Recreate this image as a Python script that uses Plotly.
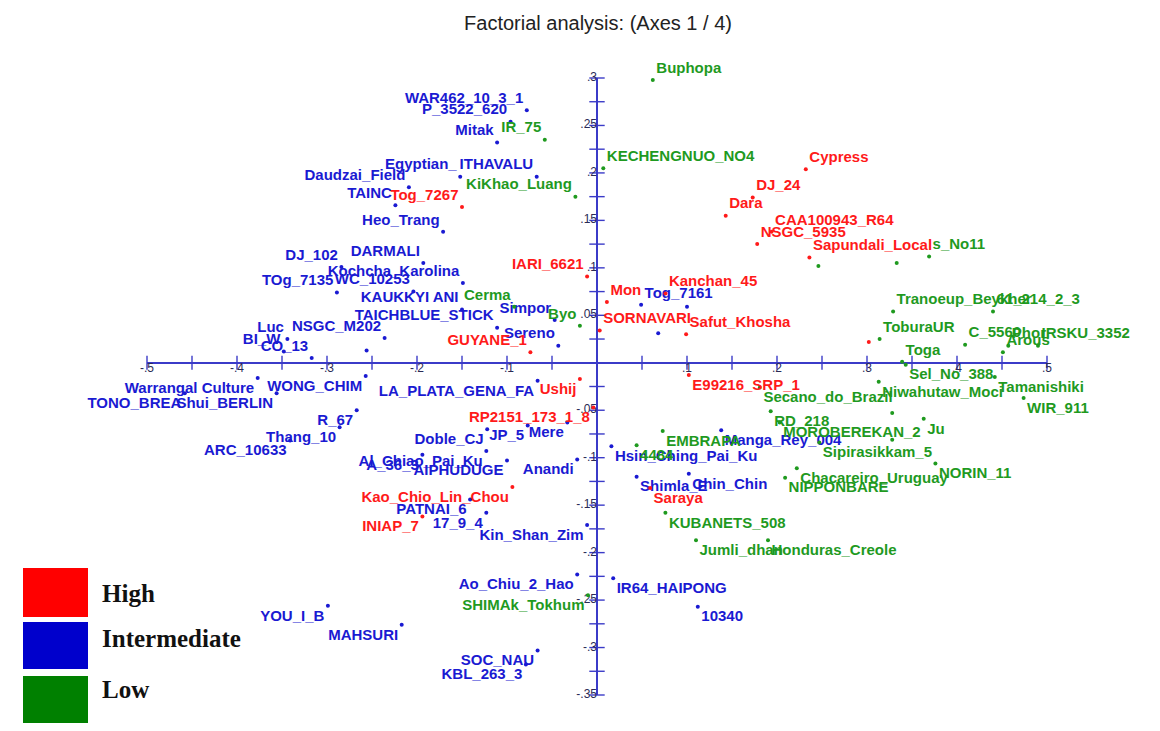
import plotly.graph_objects as go

# ---- Data: factorial coordinates on axes 1 and 4, by group ----
high_labels = ["Tog_7267", "GUYANE_1", "IARI_6621", "Ushij", "RP2151_173_1_8",
               "Kao_Chio_Lin_Chou", "INIAP_7", "Cypress", "DJ_24", "Dara",
               "CAA100943_R64", "NSGC_5935", "Sapundali_Local", "Kanchan_45", "Mon",
               "SORNAVARI", "Safut_Khosha", "", "E99216_SRP_1", "Saraya"]
high_x = [-0.150, -0.074, -0.011, -0.019, -0.004, -0.094, -0.194, 0.232, 0.173, 0.143,
          0.194, 0.178, 0.236, 0.076, 0.011, 0.003, 0.099, 0.302, 0.102, 0.059]
high_y = [0.164, 0.011, 0.091, -0.017, -0.047, -0.131, -0.162, 0.204, 0.174, 0.155,
          0.138, 0.125, 0.111, 0.073, 0.064, 0.034, 0.030, 0.022, -0.013, -0.132]

inter_labels = ["WAR462_10_3_1", "P_3522_620", "Mitak", "Egyptian_", "ITHAVALU",
                "Daudzai_Field", "TAINC", "Heo_Trang", "DARMALI", "DJ_102",
                "Kochcha_Karolina", "TOg_7135", "WC_10253", "KAUKKYI ANI", "TAICHBLUE_STICK",
                "Simpor", "Sereno", "Luc", "BI_W", "NSGC_M202", "CO_13", "",
                "Warrangal Culture", "TONO_BREA", "Shui_BERLIN", "WONG_CHIM", "LA_PLATA_GENA_FA",
                "R_67", "Thang_10", "ARC_10633", "Doble_CJ", "JP_5", "Mere",
                "Al_Chiao_Pai_Ku", "A_36_3", "AIPHUDUGE", "Anandi", "PATNAI_6", "17_9_4",
                "Kin_Shan_Zim", "Ao_Chiu_2_Hao", "YOU_I_B", "MAHSURI", "SOC_NAU", "KBL_263_3",
                "Tog_7161", "", "", "Manga_Rey_004", "Hsin_Ching_Pai_Ku", "Shimla_E",
                "Chin_Chin", "IR64_HAIPONG", "10340"]
inter_x = [-0.078, -0.096, -0.111, -0.152, -0.067, -0.209, -0.224, -0.171, -0.193, -0.284,
           -0.149, -0.289, -0.204, -0.150, -0.111, -0.047, -0.043, -0.344, -0.348, -0.236,
           -0.317, -0.256, -0.377, -0.458, -0.356, -0.257, -0.066, -0.267, -0.286, -0.341,
           -0.122, -0.077, -0.033, -0.123, -0.194, -0.100, -0.022, -0.141, -0.123, -0.011,
           -0.022, -0.299, -0.217, -0.066, -0.079, 0.049, 0.100, 0.068, 0.138, 0.016,
           0.044, 0.102, 0.018, 0.112]
inter_y = [0.266, 0.254, 0.232, 0.196, 0.196, 0.185, 0.166, 0.138, 0.105, 0.101,
           0.084, 0.074, 0.075, 0.056, 0.037, 0.045, 0.018, 0.025, 0.012, 0.026,
           0.005, 0.013, -0.016, -0.032, -0.032, -0.014, -0.019, -0.050, -0.068, -0.082,
           -0.070, -0.066, -0.063, -0.093, -0.097, -0.103, -0.102, -0.144, -0.158, -0.171,
           -0.223, -0.256, -0.276, -0.303, -0.318, 0.061, 0.059, 0.031, -0.071, -0.088,
           -0.120, -0.117, -0.227, -0.257]

low_labels = ["IR_75", "KiKhao_Luang", "Cerma", "Byo", "SHIMAk_Tokhum", "Buphopa",
              "KECHENGNUO_NO4", "s_No11", "", "", "Tranoeup_Beykher", "61_214_2_3",
              "ToburaUR", "C_5560", "Phor", "IRSKU_3352", "Arous", "Toga", "Sel_No_388",
              "Tamanishiki", "Osia_NO1", "WIR_911", "Niwahutaw_Moci", "Secano_do_Brazil",
              "RD_218", "MOROBEREKAN_2", "Ju", "EMBRAPA", "4484", "Sipirasikkam_5", "", "",
              "Chacareiro_Uruguay", "NIPPONBARE", "NORIN_11", "KUBANETS_508", "Jumli_dhan",
              "Honduras_Creole"]
low_x = [-0.058, -0.024, -0.092, -0.019, -0.010, 0.062, 0.007, 0.369, 0.333, 0.246,
         0.329, 0.440, 0.314, 0.409, 0.457, 0.490, 0.451, 0.339, 0.343, 0.442,
         0.526, 0.474, 0.313, 0.181, 0.193, 0.203, 0.363, 0.073, 0.044, 0.247,
         0.328, 0.328, 0.222, 0.209, 0.376, 0.076, 0.110, 0.190]
low_y = [0.235, 0.175, 0.059, 0.039, -0.245, 0.298, 0.205, 0.112, 0.105, 0.102,
         0.054, 0.054, 0.025, 0.019, 0.018, 0.018, 0.011, 0.001, -0.002, -0.015,
         -0.016, -0.037, -0.020, -0.026, -0.051, -0.063, -0.059, -0.072, -0.087, -0.084,
         -0.053, -0.081, -0.111, -0.121, -0.106, -0.158, -0.187, -0.187]

# ---- Axis ticks ----
x_tick_vals = [-0.5, -0.45, -0.4, -0.35, -0.3, -0.25, -0.2, -0.15, -0.1, -0.05, 0.0,
               0.05, 0.1, 0.15, 0.2, 0.25, 0.3, 0.35, 0.4, 0.45, 0.5]
x_label_vals = [-0.5, -0.4, -0.3, -0.2, -0.1, 0.1, 0.2, 0.3, 0.4, 0.5]
x_label_text = ["-.5", "-.4", "-.3", "-.2", "-.1", ".1", ".2", ".3", ".4", ".5"]
y_tick_vals = [0.3, 0.275, 0.25, 0.225, 0.2, 0.175, 0.15, 0.125, 0.1, 0.075, 0.05, 0.025, 0.0,
               -0.025, -0.05, -0.075, -0.1, -0.125, -0.15, -0.175, -0.2, -0.225, -0.25,
               -0.275, -0.3, -0.325, -0.35]
y_label_vals = [0.3, 0.25, 0.2, 0.15, 0.1, 0.05, -0.05, -0.1, -0.15, -0.2, -0.25, -0.3, -0.35]
y_label_text = [".3", ".25", ".2", ".15", ".1", ".05", "-.05", "-.1", "-.15", "-.2", "-.25",
                "-.3", "-.35"]

# ---- Styles ----
AXIS = "#3b3bc8"
TEXT_COL = {"High": "#ff1a1a", "Intermediate": "#1a1ad2", "Low": "#1f9a1f"}
KEY_COL = {"High": "#ff0000", "Intermediate": "#0000cc", "Low": "#008000"}
LABEL_FONT = "Liberation Sans, Arial, sans-serif"
TICK_COL = "#2a2a55"


def anchor(x, y):
    """Put each label on the side of its point that faces away from the origin."""
    v = "top" if y >= 0 else "bottom"
    h = "right" if x >= 0 else "left"
    return f"{v} {h}"


fig = go.Figure()

# Tick marks crossing the axes
fig.add_trace(go.Scatter(
    x=x_tick_vals, y=[0] * len(x_tick_vals), mode="markers", hoverinfo="skip",
    marker=dict(symbol="line-ns", size=10, color=AXIS, line=dict(width=1.4, color=AXIS)),
    cliponaxis=False, showlegend=False))
fig.add_trace(go.Scatter(
    x=[0] * len(y_tick_vals), y=y_tick_vals, mode="markers", hoverinfo="skip",
    marker=dict(symbol="line-ew", size=11, color=AXIS, line=dict(width=1.4, color=AXIS)),
    cliponaxis=False, showlegend=False))

# Tick labels
fig.add_trace(go.Scatter(
    x=x_label_vals, y=[0] * len(x_label_vals), mode="text", text=x_label_text,
    textposition="bottom center", hoverinfo="skip", cliponaxis=False,
    textfont=dict(family=LABEL_FONT, size=12, color=TICK_COL), showlegend=False))
fig.add_trace(go.Scatter(
    x=[0] * len(y_label_vals), y=y_label_vals, mode="text", text=y_label_text,
    textposition="middle left", hoverinfo="skip", cliponaxis=False,
    textfont=dict(family=LABEL_FONT, size=12, color=TICK_COL), showlegend=False))

# Observations, one trace per group
groups = {
    "Intermediate": (inter_labels, inter_x, inter_y),
    "Low": (low_labels, low_x, low_y),
    "High": (high_labels, high_x, high_y),
}
for name in ["Intermediate", "Low", "High"]:
    labels, xs, ys = groups[name]
    fig.add_trace(go.Scatter(
        x=xs, y=ys, mode="markers+text", text=labels, name=name,
        textposition=[anchor(a, b) for a, b in zip(xs, ys)],
        marker=dict(size=4, color=TEXT_COL[name]),
        textfont=dict(family=LABEL_FONT, size=15, color=TEXT_COL[name], weight="bold"),
        cliponaxis=False, showlegend=False))

# Plot area: x from -0.5 to 0.5 over 900 px, y from -0.35 to 0.3 over 617 px
L, R, T, B = 147, 113, 78, 36
W, H = 1160, 731
PW, PH = W - L - R, H - T - B


def px_x(px):
    return (px - L) / PW


def px_y(py):
    return (H - B - py) / PH


# Group key in the lower-left corner
shapes = []
annotations = []
key_rows = [("High", 568, 617, 593), ("Intermediate", 622, 669, 638), ("Low", 676, 723, 689)]
for name, top, bottom, text_y in key_rows:
    shapes.append(dict(type="rect", xref="paper", yref="paper",
                       x0=px_x(23), x1=px_x(88), y0=px_y(bottom), y1=px_y(top),
                       fillcolor=KEY_COL[name], line=dict(width=0), layer="above"))
    annotations.append(dict(xref="paper", yref="paper", x=px_x(100), y=px_y(text_y),
                            xanchor="left", yanchor="middle", showarrow=False,
                            text=f"<b>{name}</b>",
                            font=dict(family="Liberation Serif, Times New Roman, serif",
                                      size=25, color="#111111")))

fig.update_layout(
    width=W, height=H,
    margin=dict(l=L, r=R, t=T, b=B),
    paper_bgcolor="white", plot_bgcolor="white",
    title=dict(text="Factorial analysis: (Axes 1 / 4)", x=598 / W,
               xanchor="center", y=1 - 23 / H, yanchor="middle",
               font=dict(family=LABEL_FONT, size=20, color="#222222")),
    xaxis=dict(range=[-0.5, 0.5], showgrid=False, showticklabels=False, ticks="",
               showline=False, zeroline=True, zerolinecolor=AXIS, zerolinewidth=1.6,
               fixedrange=True),
    yaxis=dict(range=[-0.35, 0.3], showgrid=False, showticklabels=False, ticks="",
               showline=False, zeroline=True, zerolinecolor=AXIS, zerolinewidth=1.6,
               fixedrange=True),
    shapes=shapes, annotations=annotations,
    showlegend=False,
)

fig.write_html("out.html")
